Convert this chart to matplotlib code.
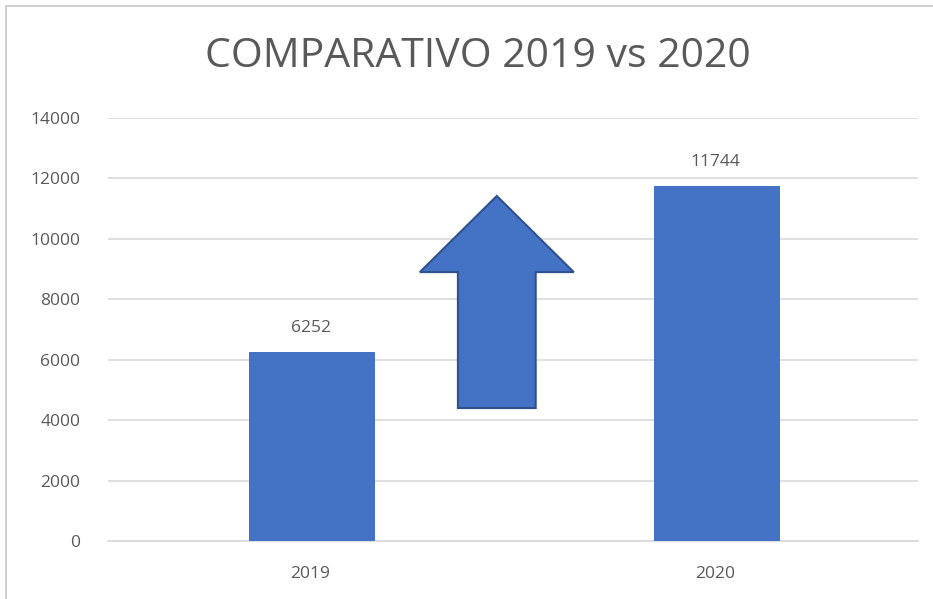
import matplotlib
matplotlib.use("Agg")
import matplotlib.pyplot as plt
from matplotlib.patches import Polygon
from matplotlib.lines import Line2D

categories = ["2019", "2020"]
values = [6252, 11744]
yticks = [0, 2000, 4000, 6000, 8000, 10000, 12000, 14000]

# decorative arrow (data units): bottom, head base, tip
arrow_bottom, arrow_head_base, arrow_tip = 4400, 8900, 11420

plt.rcParams['font.family'] = ['Open Sans', 'DejaVu Sans']
text_color = "#595959"
bar_color = "#4472C4"

fig = plt.figure(figsize=(9.33, 5.99), dpi=100)
ax = fig.add_axes([108/933, 1-541/599, (918-108)/933, (541-118)/599])

x = list(range(len(categories)))
ax.bar([xi + 0.004 for xi in x], values, width=0.31, color=bar_color, zorder=3)
for xi, v in zip(x, values):
    ax.annotate(str(v), (xi, v), xytext=(0, 11.5), textcoords="offset points",
                ha="center", va="bottom", fontsize=12.5, color=text_color)

ax.set_xlim(-0.5, 1.5)
ax.set_ylim(0, 14000)
ax.set_yticks(yticks)
ax.set_yticklabels([str(t) for t in yticks], fontsize=12.5, color=text_color)
ax.set_xticks(x)
ax.set_xticklabels(categories, fontsize=12.5, color=text_color)
ax.tick_params(axis="x", length=0, pad=18)
ax.tick_params(axis="y", length=0, pad=20)
ax.grid(axis="y", color="#D9D9D9", linewidth=1.2, zorder=0)
for s in ["top", "right", "left"]:
    ax.spines[s].set_visible(False)
ax.spines["bottom"].set_color("#D9D9D9")
ax.spines["bottom"].set_linewidth(1.2)

# arrow
cx, hw, sw = 0.46, 0.19, 0.096
arrow = Polygon([(cx - sw, arrow_bottom), (cx - sw, arrow_head_base), (cx - hw, arrow_head_base),
                 (cx, arrow_tip), (cx + hw, arrow_head_base), (cx + sw, arrow_head_base),
                 (cx + sw, arrow_bottom)], closed=True, facecolor=bar_color,
                edgecolor="#2F528F", linewidth=1.5, zorder=4)
ax.add_patch(arrow)

fig.text(478/933, 1-57/599, "COMPARATIVO 2019 vs 2020", ha="center", va="center",
         fontsize=29.5, color=text_color)

# chart frame (left and top edges)
fy = 1 - 6/599
fx = 5.5/933
fig.add_artist(Line2D([fx, fx], [0, fy], transform=fig.transFigure, color="#D0D0D0", linewidth=1.5))
fig.add_artist(Line2D([fx, 1], [fy, fy], transform=fig.transFigure, color="#D0D0D0", linewidth=1.5))

fig.savefig("out.png", dpi=100)
